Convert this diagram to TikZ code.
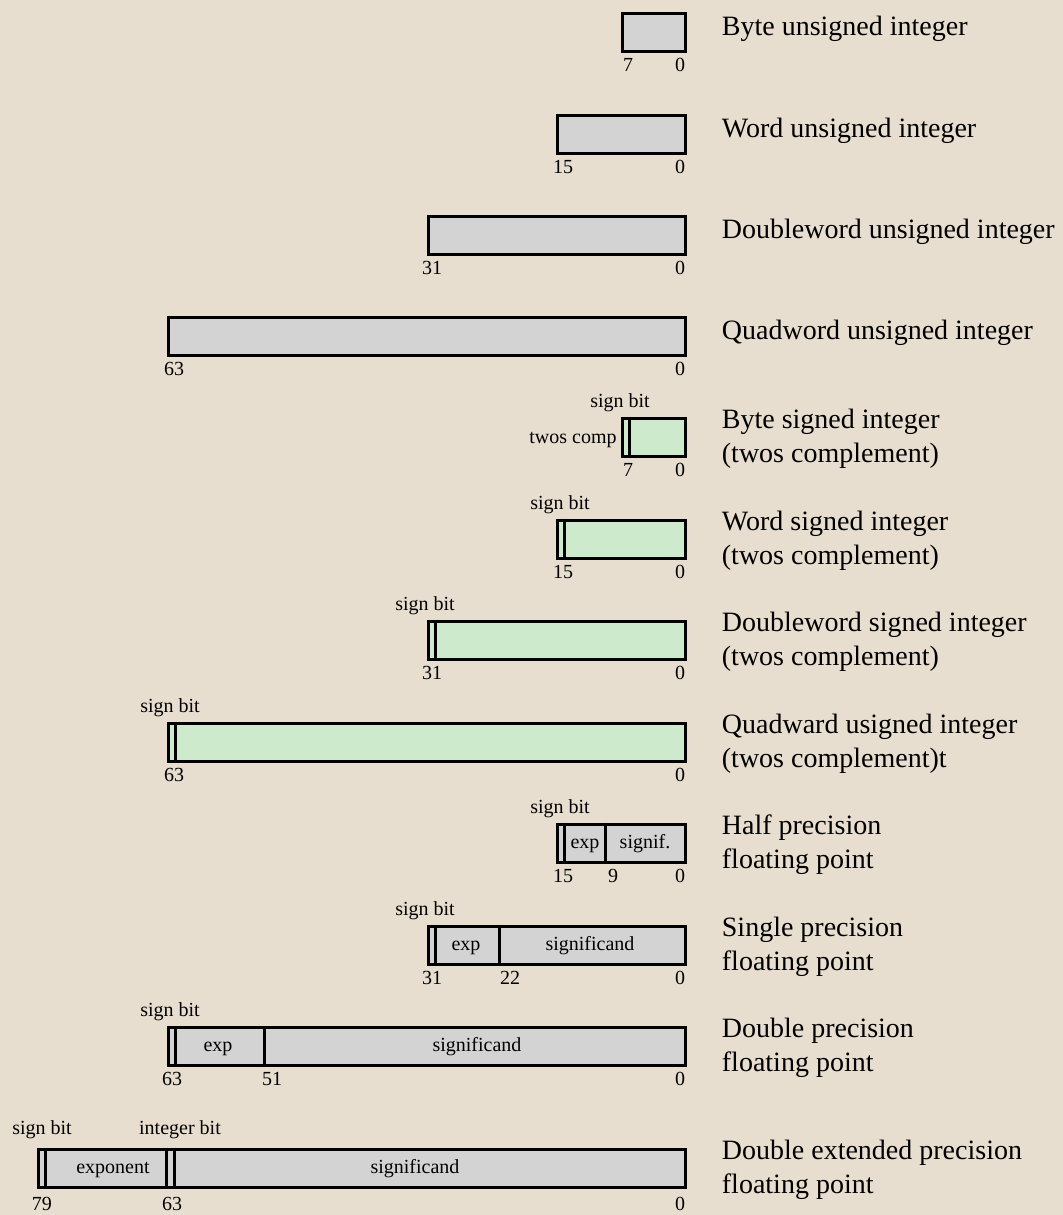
\documentclass[tikz,border=0pt]{standalone}
\usepackage{fontspec}
\setmainfont{Liberation Serif}
\usetikzlibrary{positioning}
\definecolor{paper}{RGB}{231,222,207}
\definecolor{intgray}{RGB}{211,211,211}
\definecolor{intgreen}{RGB}{205,234,205}

\begin{document}
\begin{tikzpicture}[x=0.5pt,y=-0.5pt,
    field/.style={draw, line width=1.5pt, anchor=north east,
        minimum height=19pt, inner sep=0},
    divider/.style={line width=1.5pt},
    bits/.style={font=\fontsize{10pt}{12pt}\selectfont, anchor=base, inner sep=0},
    typename/.style={font=\fontsize{14pt}{17pt}\selectfont, align=left, inner sep=0}]

% Paper
\fill[paper] (0,0) rectangle (1063,1215);
\useasboundingbox (0,0) rectangle (1063,1215);

% Byte unsigned integer
\node[field, fill=intgray, minimum width=31.5pt] (field1) at (686.5,11.5) {};
\node[typename, right=17.5pt of field1, yshift=1.5pt] (name1) {Byte unsigned integer};
\node[bits] (msb1) at (628,71) {7};
\node[bits] (lsb1) at (680,71) {0};

% Word unsigned integer
\node[field, fill=intgray, minimum width=64pt] (field2) at (686.5,113.5) {};
\node[typename, right=17.5pt of field2, yshift=1.5pt] (name2) {Word unsigned integer};
\node[bits] (msb2) at (563,173) {15};
\node[bits] (lsb2) at (680,173) {0};

% Doubleword unsigned integer
\node[field, fill=intgray, minimum width=128.5pt] (field3) at (686.5,214.5) {};
\node[typename, right=17.5pt of field3, yshift=1.5pt] (name3) {Doubleword unsigned integer};
\node[bits] (msb3) at (432,274) {31};
\node[bits] (lsb3) at (680,274) {0};

% Quadword unsigned integer
\node[field, fill=intgray, minimum width=258.5pt] (field4) at (686.5,315.5) {};
\node[typename, right=17.5pt of field4, yshift=1.5pt] (name4) {Quadword unsigned integer};
\node[bits] (msb4) at (174,375) {63};
\node[bits] (lsb4) at (680,375) {0};

% Byte signed integer
\node[field, fill=intgreen, minimum width=31.5pt] (field5) at (686.5,416.5) {};
\node[typename, right=17.5pt of field5, yshift=-1pt] (name5) {Byte signed integer\\(twos complement)};
\node[bits] (sign5) at (620,407) {sign bit};
\node[bits] (comp5) at (573,443) {twos comp};
\node[bits] (msb5) at (628,476) {7};
\node[bits] (lsb5) at (680,476) {0};

% Word signed integer
\node[field, fill=intgreen, minimum width=64pt] (field6) at (686.5,518.5) {};
\node[typename, right=17.5pt of field6, yshift=-1pt] (name6) {Word signed integer\\(twos complement)};
\node[bits] (sign6) at (560,509) {sign bit};
\node[bits] (msb6) at (563,578) {15};
\node[bits] (lsb6) at (680,578) {0};

% Doubleword signed integer
\node[field, fill=intgreen, minimum width=128.5pt] (field7) at (686.5,619.5) {};
\node[typename, right=17.5pt of field7, yshift=-1pt] (name7) {Doubleword signed integer\\(twos complement)};
\node[bits] (sign7) at (425,610) {sign bit};
\node[bits] (msb7) at (432,679) {31};
\node[bits] (lsb7) at (680,679) {0};

% Quadword signed integer
\node[field, fill=intgreen, minimum width=258.5pt] (field8) at (686.5,721.5) {};
\node[typename, right=17.5pt of field8, yshift=-1pt] (name8) {Quadward usigned integer\\(twos complement)t};
\node[bits] (sign8) at (170,712) {sign bit};
\node[bits] (msb8) at (174,781) {63};
\node[bits] (lsb8) at (680,781) {0};

% Half precision
\node[field, fill=intgray, minimum width=64pt] (field9) at (686.5,822.5) {};
\node[typename, right=17.5pt of field9, yshift=-1pt] (name9) {Half precision\\floating point};
\node[bits] (sign9) at (560,813) {sign bit};
\node[bits] (exp9) at (585,848) {exp};
\node[bits] (sig9) at (645,848) {signif.};
\node[bits] (msb9) at (563,882) {15};
\node[bits] (mid9) at (613,882) {9};
\node[bits] (lsb9) at (680,882) {0};

% Single precision
\node[field, fill=intgray, minimum width=128.5pt] (field10) at (686.5,924.5) {};
\node[typename, right=17.5pt of field10, yshift=-1pt] (name10) {Single precision\\floating point};
\node[bits] (sign10) at (425,915) {sign bit};
\node[bits] (exp10) at (466,950) {exp};
\node[bits] (sig10) at (590,950) {significand};
\node[bits] (msb10) at (432,984) {31};
\node[bits] (mid10) at (510,984) {22};
\node[bits] (lsb10) at (680,984) {0};

% Double precision
\node[field, fill=intgray, minimum width=258.5pt] (field11) at (686.5,1025.5) {};
\node[typename, right=17.5pt of field11, yshift=-1pt] (name11) {Double precision\\floating point};
\node[bits] (sign11) at (170,1016) {sign bit};
\node[bits] (exp11) at (218,1051) {exp};
\node[bits] (sig11) at (477,1051) {significand};
\node[bits] (msb11) at (172,1085) {63};
\node[bits] (mid11) at (272,1085) {51};
\node[bits] (lsb11) at (680,1085) {0};

% Double extended precision
\node[field, fill=intgray, minimum width=323.5pt] (field12) at (686.5,1147.5) {};
\node[typename, right=17.5pt of field12, yshift=-1pt] (name12) {Double extended precision\\floating point};
\node[bits] (sign12) at (42,1134) {sign bit};
\node[bits] (int12) at (180,1134) {integer bit};
\node[bits] (exp12) at (113,1173) {exponent};
\node[bits] (sig12) at (415,1173) {significand};
\node[bits] (msb12) at (42,1210) {79};
\node[bits] (mid12) at (172,1210) {63};
\node[bits] (lsb12) at (680,1210) {0};

% Sign bits
\foreach \n in {5,...,12}
    \draw[divider] ([xshift=4.25pt]field\n.north west) -- ([xshift=4.25pt]field\n.south west);

% Exponent and integer bit borders
\draw[divider] ([xshift=25pt]field9.north west) -- ([xshift=25pt]field9.south west);
\draw[divider] ([xshift=36.5pt]field10.north west) -- ([xshift=36.5pt]field10.south west);
\draw[divider] ([xshift=49pt]field11.north west) -- ([xshift=49pt]field11.south west);
\draw[divider] ([xshift=65pt]field12.north west) -- ([xshift=65pt]field12.south west);
\draw[divider] ([xshift=69pt]field12.north west) -- ([xshift=69pt]field12.south west);

\end{tikzpicture}
\end{document}
